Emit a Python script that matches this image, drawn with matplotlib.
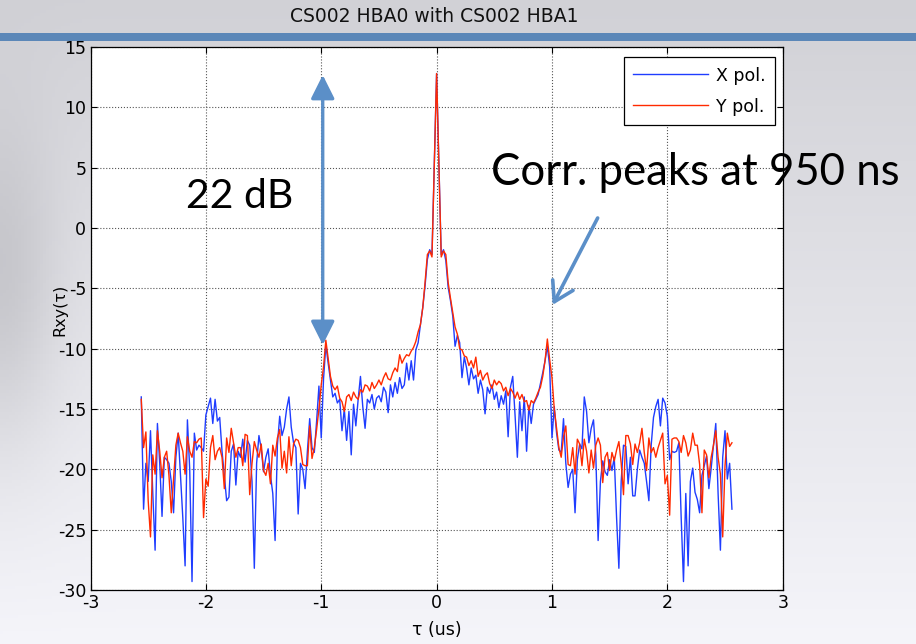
import numpy as np
import matplotlib
matplotlib.use("Agg")
import matplotlib.pyplot as plt
from matplotlib.patches import FancyArrowPatch, Rectangle

plt.rcParams['axes.unicode_minus'] = False
plt.rcParams['font.family'] = ['DejaVu Sans']

# lag axis, 0.02 us per lag, +-128 lags
lag_step = 0.02
n_lags = 128

# X pol. (blue) correlation, dB
x_pol = [
    -14.0, -23.3, -19.5, -21.0, -16.8, -22.0, -26.7, -16.2, -19.5, -23.9,
    -19.0, -19.2, -19.5, -21.0, -23.6, -19.0, -17.0, -20.5, -24.0, -28.0,
    -15.9, -20.0, -29.3, -17.0, -18.4, -18.0, -18.2, -18.5, -15.5, -14.8,
    -14.1, -16.2, -14.2, -16.0, -15.7, -18.5, -20.5, -22.6, -22.3, -18.5,
    -17.9, -21.3, -18.5, -19.0, -17.5, -19.4, -17.6, -18.0, -21.0, -28.2,
    -19.5, -17.2, -18.3, -20.2, -19.0, -18.3, -20.5, -22.0, -25.9, -18.0,
    -15.6, -17.2, -16.5, -15.0, -14.0, -16.5, -17.8, -18.2, -23.7, -19.5,
    -20.0, -21.6, -18.5, -15.8, -18.2, -18.6, -16.0, -13.1, -17.4, -12.5,
    -9.7, -11.2, -12.6, -14.0, -13.7, -14.5, -14.2, -16.8, -15.0, -17.6,
    -15.2, -18.8, -14.6, -16.4, -14.2, -12.3, -14.8, -16.6, -14.2, -14.5,
    -13.8, -15.0, -14.1, -13.9, -14.4, -13.2, -13.6, -15.3, -13.0, -14.0,
    -12.8, -13.7, -12.4, -13.3, -13.0, -11.2, -12.6, -11.0, -12.6, -10.1,
    -9.5, -8.0, -6.6, -4.8, -2.6, -1.8, -2.2, 5.2,
    12.8,
    5.2, -2.2, -1.8, -2.7, -4.9, -6.0, -7.3, -9.8, -8.9, -9.5,
    -12.4, -10.7, -11.6, -13.0, -11.6, -12.5, -12.2, -13.7, -12.6, -13.4,
    -15.4, -13.2, -13.7, -13.0, -14.2, -13.6, -14.9, -13.9, -14.6, -13.5,
    -17.3, -13.2, -12.3, -15.5, -19.0, -14.4, -16.8, -14.0, -18.5, -14.7,
    -16.2, -14.6, -14.2, -13.8, -12.9, -12.0, -11.0, -9.8, -11.5, -17.4,
    -14.8, -17.0, -18.4, -18.6, -15.8, -19.5, -21.5, -20.4, -20.0, -23.6,
    -19.2, -17.9, -18.3, -14.0, -15.2, -17.8, -16.6, -15.9, -18.8, -25.9,
    -21.0, -19.3, -20.2, -20.5, -19.2, -20.1, -19.0, -24.0, -28.2, -21.0,
    -18.0, -18.1, -21.2, -19.0, -22.2, -22.2, -20.0, -18.4, -19.0, -19.5,
    -21.0, -22.6, -18.0, -15.7, -14.8, -14.2, -16.4, -14.1, -14.5, -15.6,
    -19.2, -18.5, -18.6, -18.5, -17.8, -24.0, -29.3, -22.0, -28.0, -21.0,
    -19.9, -21.9, -22.5, -23.6, -20.5, -19.7, -18.9, -21.6, -19.9, -18.0,
    -16.2, -22.0, -26.7, -19.0, -16.8, -20.8, -19.5, -23.3,
]

# Y pol. (red) correlation, dB
y_pol = [
    -14.2, -18.2, -16.9, -22.6, -25.6, -18.8, -20.4, -16.8, -18.5, -20.7,
    -19.0, -18.5, -20.5, -23.6, -20.8, -18.0, -17.0, -17.8, -18.5, -20.4,
    -17.3, -18.5, -19.0, -17.7, -17.8, -17.5, -17.4, -24.0, -20.8, -21.4,
    -18.2, -17.2, -19.2, -18.5, -18.2, -19.0, -21.6, -17.4, -18.6, -16.6,
    -17.8, -19.0, -18.2, -18.2, -19.7, -17.1, -17.2, -22.1, -19.5, -17.7,
    -18.4, -19.0, -17.9, -20.1, -20.5, -19.5, -21.2, -18.0, -18.9, -17.4,
    -16.7, -19.9, -18.5, -20.3, -17.3, -19.7, -17.9, -17.5, -17.6, -18.2,
    -19.6, -19.7, -19.7, -16.4, -19.1, -18.2, -16.7, -15.0, -13.0, -11.5,
    -9.3, -10.8, -12.3, -13.1, -13.4, -13.1, -14.1, -14.4, -15.2, -14.0,
    -13.8, -14.3, -13.6, -14.0, -14.2, -13.4, -13.6, -13.0, -13.1, -13.5,
    -12.8, -13.3, -13.0, -12.6, -13.0, -12.4, -12.0, -12.5, -12.6, -12.0,
    -11.6, -11.9, -10.5, -11.2, -10.8, -10.5, -10.6, -10.2, -9.9, -9.4,
    -8.6, -8.0, -6.6, -4.5, -2.2, -1.9, -2.4, 5.2,
    12.8,
    5.2, -2.4, -1.9, -2.2, -4.5, -5.8, -7.0, -8.2, -8.8, -10.0,
    -10.1, -10.6, -10.7, -11.4, -11.0, -11.6, -10.7, -12.3, -11.8, -12.6,
    -12.2, -12.0, -12.9, -13.3, -12.6, -13.0, -12.7, -12.9, -13.5, -13.2,
    -13.9, -13.3, -13.6, -14.1, -13.6, -14.2, -13.8, -14.4, -14.3, -15.1,
    -14.3, -14.5, -14.1, -13.6, -13.2, -12.3, -11.0, -9.2, -10.9, -12.4,
    -15.0, -16.6, -18.2, -19.0, -17.3, -16.4, -19.6, -19.7, -18.2, -20.4,
    -17.5, -17.9, -19.7, -17.5, -18.5, -20.3, -18.4, -19.9, -18.0, -17.4,
    -18.0, -21.1, -19.0, -18.6, -20.1, -18.6, -19.3, -18.4, -17.7, -19.5,
    -22.1, -17.2, -17.2, -17.9, -19.6, -17.9, -18.6, -17.8, -16.6, -18.6,
    -20.1, -17.4, -18.6, -18.2, -19.0, -18.2, -17.6, -17.0, -21.2, -20.5,
    -23.8, -17.5, -17.4, -17.4, -17.7, -18.6, -17.2, -17.8, -18.9, -18.4,
    -17.0, -18.0, -18.0, -19.6, -23.6, -18.4, -18.8, -20.7, -19.0, -18.0,
    -16.8, -19.0, -20.4, -25.6, -19.7, -17.0, -18.1, -17.8,
]

x_ticks = [-3, -2, -1, 0, 1, 2, 3]
y_ticks = [-30, -25, -20, -15, -10, -5, 0, 5, 10, 15]
series_names = ['X pol.', 'Y pol.']

tau = np.arange(-n_lags, n_lags + 1) * lag_step

W, H = 916, 644
fig = plt.figure(figsize=(W / 100, H / 100), dpi=100)

# slide background: soft grey gradient
bg = fig.add_axes([0, 0, 1, 1], zorder=-10)
yy, xx = np.mgrid[0:1:200j, 0:1:300j]
shade = 0.82 + 0.14 * yy - 0.10 * np.exp(-(xx / 0.06) ** 2) * np.exp(-((yy - 0.45) / 0.25) ** 2)
rgb = np.dstack([shade, shade, shade + 0.02])
bg.imshow(np.clip(rgb, 0, 1), aspect='auto', extent=[0, 1, 0, 1], origin='upper')
bg.axis('off')
fig.patches.append(Rectangle((0, 1 - 41 / H), 1, 8 / H, transform=fig.transFigure,
                             facecolor='#5b87b8', edgecolor='none', zorder=-5))
fig.text(434 / W, 1 - 16 / H, 'CS002 HBA0 with CS002 HBA1', ha='center', va='center',
         fontsize=13.5, color='#111111')

ax = fig.add_axes([90.5 / W, 1 - 590 / H, 692.2 / W, 543 / H])
ax.set_facecolor('white')
ax.plot(tau, x_pol, color='#1f3dff', lw=1.0, label=series_names[0])
ax.plot(tau, y_pol, color='#ff2a00', lw=1.0, label=series_names[1])

ax.set_xlim(-3, 3)
ax.set_ylim(-30, 15)
ax.set_xticks(x_ticks)
ax.set_yticks(y_ticks)
ax.grid(True, linestyle=':', color='#555555', lw=0.8)
ax.tick_params(direction='in', top=True, right=True, length=4, labelsize=12.5, pad=3)
for s in ax.spines.values():
    s.set_linewidth(0.9)
ax.set_xlabel('τ (us)', fontsize=12.5)
ax.set_ylabel('Rxy(τ)', fontsize=11.5)
ax.xaxis.set_label_coords(0.5, -0.058)
ax.yaxis.set_label_coords(-0.034, 0.515)

leg = ax.legend(loc='upper right', bbox_to_anchor=(775 / W, 1 - 57 / H), bbox_transform=fig.transFigure,
                borderaxespad=0, fancybox=False, edgecolor='black', framealpha=1, fontsize=12.5,
                handlelength=4.3, borderpad=0.55, labelspacing=0.75, handletextpad=0.45)
leg.get_frame().set_linewidth(0.9)

# slide annotations
ann_blue = '#5b8fc8'
ax.add_patch(FancyArrowPatch((-0.987, 12.68), (-0.987, -9.69), arrowstyle='<|-|>,head_length=0.9,head_width=0.45',
                             color=ann_blue, lw=2.4, mutation_scale=16, shrinkA=0, shrinkB=0, zorder=5))
ax.add_patch(FancyArrowPatch((1.396, 0.83), (1.006, -6.37), arrowstyle='->,head_length=0.9,head_width=0.55',
                             color=ann_blue, lw=2.6, mutation_scale=15, shrinkA=0, shrinkB=0, zorder=5))
fig.text(186 / W, 1 - 196 / H, '22 dB', ha='left', va='center', fontsize=29.5,
         family=['Lato', 'DejaVu Sans'], color='black')
fig.text(491 / W, 1 - 173 / H, 'Corr. peaks at 950 ns', ha='left', va='center', fontsize=31.5,
         family=['Lato', 'DejaVu Sans'], color='black')

fig.savefig('out.png', dpi=100)
